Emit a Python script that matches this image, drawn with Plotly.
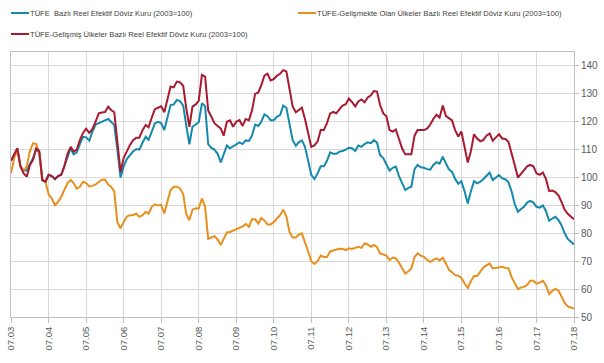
import pandas as pd
import plotly.graph_objects as go

months = pd.date_range("2003-07-01", "2018-07-01", freq="MS")

tick_labels = ["07.03", "07.04", "07.05", "07.06", "07.07", "07.08", "07.09", "07.10",
               "07.11", "07.12", "07.13", "07.14", "07.15", "07.16", "07.17", "07.18"]
y_ticks = [50, 60, 70, 80, 90, 100, 110, 120, 130, 140]

name_tufe = "TÜFE  Bazlı Reel Efektif Döviz Kuru (2003=100)"
name_gelismekte = "TÜFE-Gelişmekte Olan Ülkeler Bazlı Reel Efektif Döviz Kuru (2003=100)"
name_gelismis = "TÜFE-Gelişmiş Ülkeler Bazlı Reel Efektif Döviz Kuru (2003=100)"

tufe = [
    106, 108, 110.3, 104, 102.5, 102.5, 105, 107, 110, 109, 99, 98.5,
    101, 100.5, 99.4, 100.5, 101, 104, 107.5, 110.5, 108.3, 109, 112, 114.6,
    114.4, 113.2, 116.5, 119, 119.5, 120, 120.3, 121, 120, 118.8, 110, 100,
    104, 106.6, 108, 109.3, 110.2, 110, 112.5, 114.6, 113.5, 116.5, 119.4, 120,
    119.5, 117, 121.8, 126, 126.2, 127.8, 127.4, 125.8, 118.8, 111.9, 118.2, 119,
    119.8, 126.6, 125.6, 112, 110.6, 110, 108.5, 105.4, 108.5, 111.5, 110.5, 111.2,
    112, 112.6, 112, 113.3, 113.1, 115, 119, 118.5, 120, 122.6, 122, 120.5,
    120.5, 121.8, 122.4, 125.8, 125, 118.8, 113.4, 111.4, 112.6, 113.3, 111, 106,
    101, 99.5, 101.5, 104, 104, 106, 109, 108.5, 108.5, 109.3, 109.5, 110,
    110.7, 110.5, 109.5, 111.5, 111, 112, 112.6, 112.3, 113.4, 112.5, 108, 107,
    105, 102.5, 103.5, 103.9, 100.5, 98, 95.5, 96.3, 96.7, 103, 104.5, 103.7,
    103.5, 103, 102.8, 104.5, 105.5, 105, 107.5, 105, 103, 102, 99.5, 97.8,
    98.7, 95, 90.7, 95, 98.7, 97.9, 98.5, 99.5, 100.8, 101.8, 99.1, 100,
    100.9, 99.7, 99.4, 98.3, 95, 90.5, 87.7, 88.7, 89.5, 91, 91.6, 91,
    89.5, 89.2, 90, 88, 84.5, 85.3, 85.9, 84.7, 82.9, 80, 78, 77,
    76,
]

gelismekte = [
    101.5, 107, 110, 104, 102.5, 104, 109.5, 112.3, 112, 109, 99.5, 98.5,
    94, 92.5, 90.1, 91.3, 93.1, 95.5, 98, 99.1, 98, 96, 96.7, 98.5,
    98, 96.8, 97, 97.5, 98.5, 99.2, 99.3, 97.5, 96.7, 95, 84, 81.8,
    84, 86, 86.5, 86.5, 87.1, 85.9, 86.5, 87.7, 87, 89.5, 90.4, 90,
    90.2, 87.1, 91.5, 95.5, 96.7, 96.7, 96.1, 94, 87, 84.7, 88.5, 89,
    88.9, 92.5, 89.5, 78, 78.5, 79, 77.8, 75.8, 78, 80.3, 80.5, 81,
    81.5, 82, 82.5, 83.3, 82.3, 85, 85, 83.5, 85.5, 84.6, 83.2, 83.2,
    84, 85.3, 86.5, 88.5, 86, 80.5, 78.5, 78.5, 79.5, 80, 77, 73.5,
    70, 69, 70, 72, 71.5, 71.5, 73.5, 74, 74.2, 74.5, 74.4, 74,
    74.6, 74.4, 74.8, 75.2, 74.8, 76.4, 76, 75.2, 75.8, 75, 72.8, 72.4,
    72, 70.4, 71.3, 71, 69.5, 67.5, 65.6, 66.4, 67.4, 71.5, 72.8, 72,
    71.6, 70.5, 69.7, 70.5, 71, 70.3, 71.2, 69.2, 67, 66, 65, 64.8,
    64, 62, 60.4, 62.8, 64.7, 64.7, 66.3, 67.8, 68.5, 69.2, 67.4, 67.6,
    68, 68, 67.6, 67.5, 64.3, 62, 60, 60.6, 60.8, 61.5, 63, 63,
    62, 62.3, 63, 61.4, 58.2, 59.4, 60.1, 59.4, 57.5, 55, 53.8, 53.3,
    53,
]

gelismis = [
    106, 108.5, 110.5, 104, 101.5, 100.3, 104.5, 106.3, 110.5, 109.5, 99, 98.5,
    101, 100.5, 99.4, 100.5, 101, 104, 108.5, 111, 109.3, 110, 113.4, 116,
    117.5, 116, 117.4, 120, 123, 123.3, 123.5, 125.4, 124.2, 123.4, 113, 102,
    107, 109.5, 111.7, 113.4, 114.3, 114.3, 117, 118.8, 118, 121.5, 124.5, 125,
    125.6, 123.4, 128.4, 132.6, 132.3, 134.4, 134.1, 132.9, 125, 118.2, 125.4, 126.2,
    127.5, 136.8, 136.2, 124, 121.8, 119.5, 118.5, 117.5, 115, 120, 120.5, 118.2,
    120, 120.6, 118.5, 121, 120.5, 124, 130, 130.5, 133, 136.5, 137.2, 134.8,
    135.3, 136.5, 137.2, 138.5, 138, 131.5, 125.5, 123.4, 124.2, 125, 121, 116,
    111, 111.5, 113, 117, 117, 119.5, 123, 123.5, 123, 124.5, 125.8, 126.3,
    128.3, 127, 125.5, 127.3, 128, 127, 128.7, 129.5, 131, 130.8, 126, 123,
    122, 117, 116.5, 117.2, 113.5, 110.5, 108.3, 108.3, 108.3, 115, 117, 117,
    117, 117.5, 119, 121, 122.5, 121.5, 125.8, 122, 121.2, 120.5, 117, 114.7,
    116.5, 111, 105.4, 109.3, 115.5, 114, 113, 113.5, 115, 115.8, 113.2, 114.4,
    115.5, 114, 113.8, 112.8, 109, 104.5, 100, 101.5, 102.5, 104, 104.5, 104,
    101.5, 101, 101.8, 99.5, 95.2, 95.3, 94.8, 93.5, 91.3, 88.5, 87, 85.8,
    85,
]

c_tufe = "#1589ad"
c_gelismekte = "#e7901f"
c_gelismis = "#a81a30"

fig = go.Figure()
for name, vals, col in [(name_tufe, tufe, c_tufe),
                        (name_gelismekte, gelismekte, c_gelismekte),
                        (name_gelismis, gelismis, c_gelismis)]:
    fig.add_trace(go.Scatter(x=months, y=vals, mode="lines", name=name,
                             line=dict(color=col, width=2), showlegend=False,
                             hoverinfo="skip"))

# plot area at page pixels x 11..574, y 52..317 (body margin removed below)
W, H = 604, 363
L, R, T, B = 11, 30, 52, 46
pw, ph = W - L - R, H - T - B

def px(x):
    return (x - L) / pw

def py(y):
    return (H - B - y) / ph

legend_items = [(name_tufe, c_tufe, 11, 13),
                (name_gelismekte, c_gelismekte, 298, 13),
                (name_gelismis, c_gelismis, 11, 34)]
shapes = []
annotations = []
for name, col, x0, y0 in legend_items:
    shapes.append(dict(type="line", xref="paper", yref="paper",
                       x0=px(x0), x1=px(x0 + 18), y0=py(y0), y1=py(y0),
                       line=dict(color=col, width=2)))
    annotations.append(dict(xref="paper", yref="paper", x=px(x0 + 19), y=py(y0),
                            text=name, showarrow=False, xanchor="left", yanchor="middle",
                            xshift=-2,
                            font=dict(size=7.6, color="#404040",
                                      family="Liberation Sans, Arial")))

fig.update_layout(
    width=W, height=H,
    margin=dict(l=L, r=R, t=T, b=B, autoexpand=False),
    paper_bgcolor="white", plot_bgcolor="white",
    shapes=shapes, annotations=annotations,
    font=dict(family="Liberation Sans, Arial", size=10, color="#595959"),
)
fig.update_xaxes(
    range=[months[0], months[-1]],
    tickvals=[months[i] for i in range(0, len(months), 12)],
    ticktext=tick_labels,
    tickangle=-90,
    ticklabeloverflow="allow",
    tickfont=dict(size=9.5, color="#595959"),
    showgrid=True, gridcolor="#d9d9d9", gridwidth=1,
    showline=True, linecolor="#bfbfbf", linewidth=1, mirror=True,
    ticks="outside", ticklen=5, tickcolor="#bfbfbf",
    zeroline=False, automargin=False,
)
fig.update_yaxes(
    range=[50, 145],
    side="right",
    tickvals=y_ticks,
    ticklabeloverflow="allow",
    tickfont=dict(size=10, color="#595959"),
    showgrid=True, gridcolor="#d9d9d9", gridwidth=1,
    showline=True, linecolor="#bfbfbf", linewidth=1, mirror=True,
    ticks="outside", ticklen=4, tickcolor="#bfbfbf",
    zeroline=False, automargin=False,
)

fig.write_html("out.html",
               config={"displayModeBar": False},
               post_script="document.body.style.margin='0';document.body.style.overflow='hidden';")
